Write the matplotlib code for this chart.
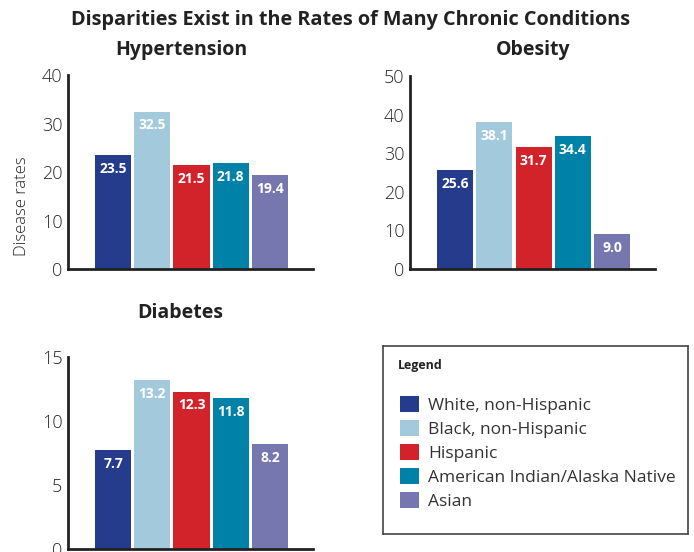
import matplotlib.pyplot as plt
from matplotlib.patches import Patch

groups = ["White, non-Hispanic", "Black, non-Hispanic", "Hispanic",
          "American Indian/Alaska Native", "Asian"]
colors = ["#253c8c", "#a3cadc", "#d2232a", "#0081a7", "#7777b0"]

hypertension = [23.5, 32.5, 21.5, 21.8, 19.4]
obesity = [25.6, 38.1, 31.7, 34.4, 9.0]
diabetes = [7.7, 13.2, 12.3, 11.8, 8.2]

plt.rcParams["font.family"] = ["Open Sans", "DejaVu Sans"]

fig = plt.figure(figsize=(6.94, 5.52), dpi=100)


def bar_panel(rect, values, ymax, step, title, title_xy):
    ax = fig.add_axes(rect)
    x = range(len(values))
    bars = ax.bar(x, values, width=0.92, color=colors)
    for b, v in zip(bars, values):
        ax.annotate(f"{v:.1f}", (b.get_x() + b.get_width() / 2, v),
                    xytext=(0, -10), textcoords="offset points",
                    ha="center", va="center", color="white",
                    fontsize=10, fontweight="bold")
    ax.set_xlim(-1.15, 5.1)
    ax.set_ylim(0, ymax)
    ax.set_yticks(range(0, ymax + 1, step))
    ax.set_xticks([])
    ax.tick_params(axis="y", length=0, pad=4, labelsize=13, labelcolor="#262626")
    for lbl in ax.get_yticklabels():
        lbl.set_fontweight("light")
    for s in ["top", "right"]:
        ax.spines[s].set_visible(False)
    for s in ["left", "bottom"]:
        ax.spines[s].set_linewidth(2)
        ax.spines[s].set_color("#222222")
    fig.text(title_xy[0], title_xy[1], title, ha="center", va="center",
             fontsize=14, fontweight="bold", color="#222222")
    return ax


ax1 = bar_panel([0.098, 0.5127, 0.353, 0.351], hypertension, 40, 10,
                "Hypertension", (181 / 694, 1 - 50 / 552))
ax1.set_ylabel("Disease rates", fontsize=12, color="#262626", fontweight="light")
ax1.yaxis.set_label_coords(-0.155, 0.325)

bar_panel([0.591, 0.5127, 0.353, 0.349], obesity, 50, 10,
          "Obesity", (533 / 694, 1 - 50 / 552))
bar_panel([0.098, 0.0054, 0.353, 0.348], diabetes, 15, 5,
          "Diabetes", (180 / 694, 1 - 313 / 552))

fig.text(351 / 694, 1 - 20 / 552,
         "Disparities Exist in the Rates of Many Chronic Conditions",
         ha="center", va="center", fontsize=14.3, fontweight="bold", color="#222222")

# legend box
lax = fig.add_axes([383 / 694, 1 - 534 / 552, 305 / 694, 188 / 552])
lax.set_xticks([])
lax.set_yticks([])
for s in lax.spines.values():
    s.set_linewidth(1.2)
    s.set_color("#444444")
lax.text(15 / 305, 1 - 19 / 188, "Legend", transform=lax.transAxes,
         fontsize=9, fontweight="bold", color="#222222", va="center", ha="left")
handles = [Patch(facecolor=c, edgecolor="none") for c in colors]
lax.legend(handles, groups, loc="upper left", bbox_to_anchor=(0.055, 0.735),
           frameon=False, fontsize=12.5, handlelength=1.1, handleheight=1.1,
           handletextpad=0.55, labelspacing=0.33, borderaxespad=0, borderpad=0,
           labelcolor="#333333")

fig.savefig("out.png", dpi=100)
